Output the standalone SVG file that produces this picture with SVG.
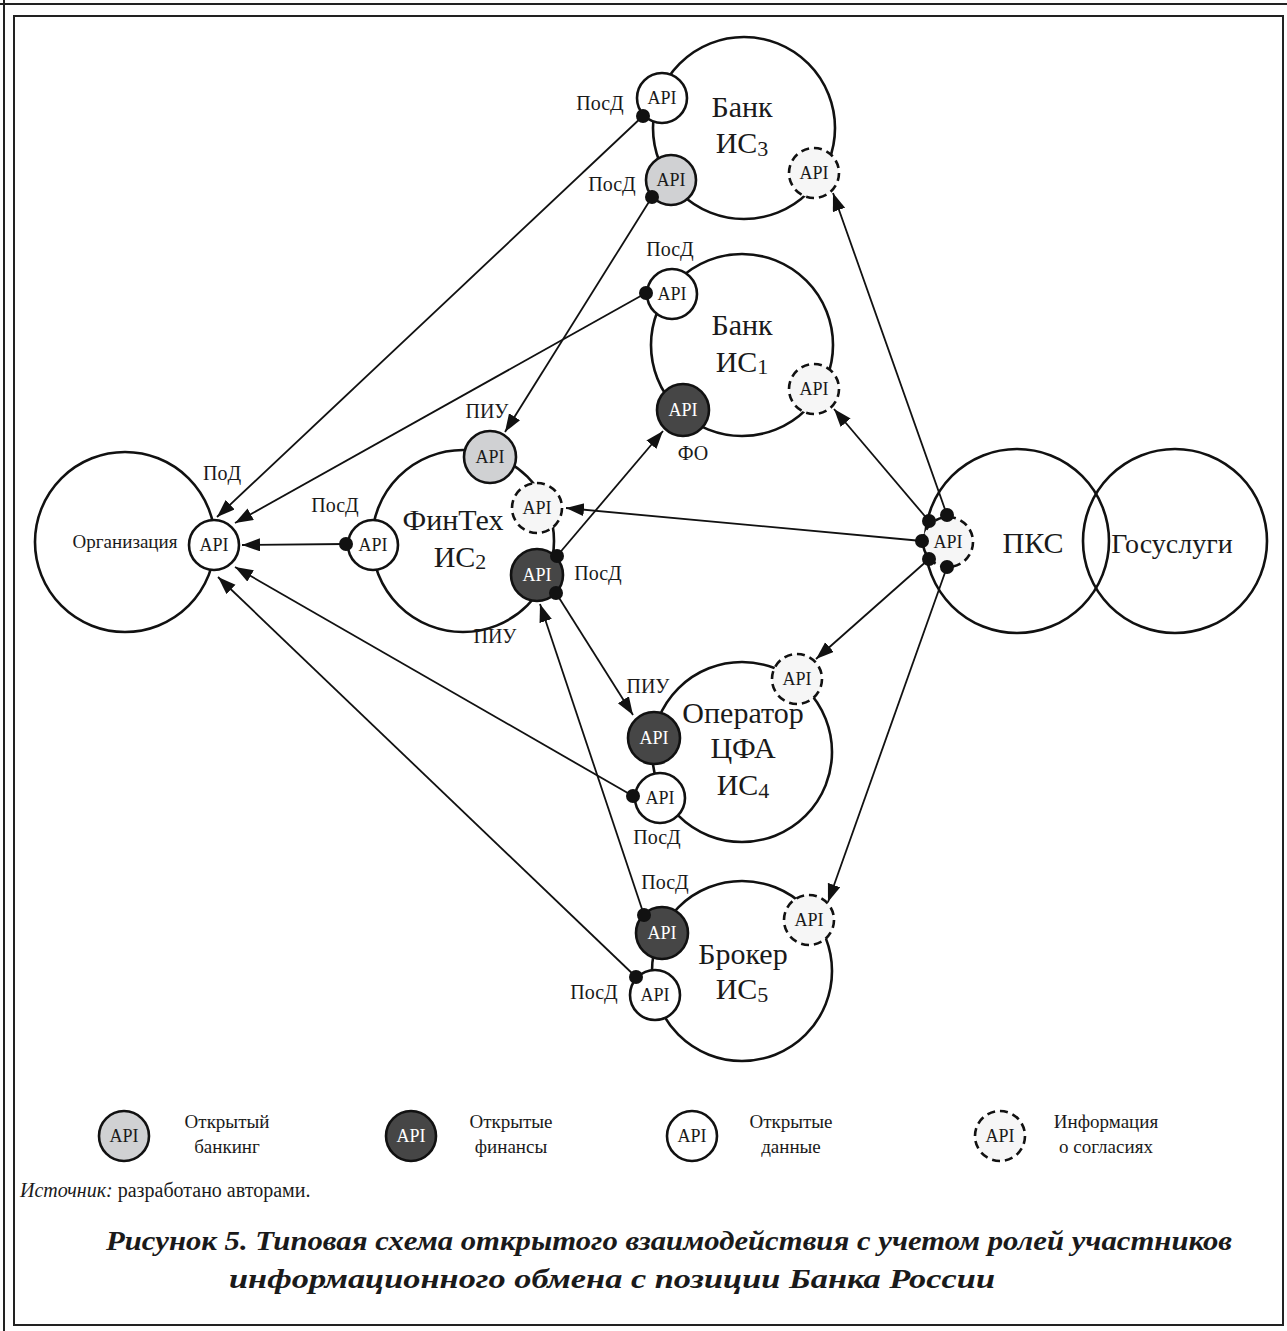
<svg xmlns="http://www.w3.org/2000/svg" width="1287" height="1331" viewBox="0 0 1287 1331">
<defs>
<marker id="arr" markerUnits="userSpaceOnUse" markerWidth="20" markerHeight="14" refX="18" refY="6.5" orient="auto">
<path d="M0,0 L18,6.5 L0,13 z" fill="#111"/>
</marker>
<style>
.big{fill:#fff;stroke:#111;stroke-width:2.6}
.w{fill:#fff;stroke:#111;stroke-width:2.6}
.g{fill:#d0d1d3;stroke:#111;stroke-width:2.6}
.d{fill:#464646;stroke:#111;stroke-width:2.6}
.c{fill:#f6f6f6;stroke:#111;stroke-width:2.6;stroke-dasharray:8 5}
.dot{fill:#111}
.ln{stroke:#111;stroke-width:1.8;fill:none;marker-end:url(#arr)}
text{font-family:"Liberation Serif","DejaVu Serif",serif;fill:#1a1a1a}
.api{font-size:18px;text-anchor:middle}
.apiw{font-size:18px;text-anchor:middle;fill:#fff}
.lab{font-size:20px;text-anchor:middle}
.main{font-size:30px;text-anchor:middle}
.sub{font-size:22px}
.leg{font-size:19px;text-anchor:middle}
</style>
</defs>
<rect x="0" y="0" width="1287" height="1331" fill="#fff"/>
<g id="frame" fill="none" stroke="#222">
<line x1="0" y1="4" x2="1287" y2="4" stroke-width="2"/>
<line x1="4" y1="0" x2="4" y2="1331" stroke-width="2"/>
<rect x="14" y="16" width="1269" height="1309" stroke-width="2"/>
</g>
<g id="big-circles">
<circle class="big" cx="125" cy="542" r="90"/>
<circle class="big" cx="744" cy="128" r="91"/>
<circle class="big" cx="742" cy="345" r="91"/>
<circle class="big" cx="463" cy="541" r="91"/>
<circle class="big" cx="742" cy="752" r="90"/>
<circle class="big" cx="742" cy="971" r="90"/>
<circle class="big" cx="1175" cy="541" r="92"/>
<circle class="big" cx="1017" cy="541" r="92" style="fill:none"/>
</g>
<g id="connectors">
<line class="ln" x1="643" y1="116" x2="217" y2="517"/>
<line class="ln" x1="646" y1="293" x2="235" y2="523"/>
<line class="ln" x1="346" y1="544" x2="242" y2="545"/>
<line class="ln" x1="633" y1="796" x2="235" y2="567"/>
<line class="ln" x1="636" y1="977" x2="218" y2="577"/>
<line class="ln" x1="652" y1="197" x2="505" y2="432"/>
<line class="ln" x1="557" y1="556" x2="663" y2="431"/>
<line class="ln" x1="556" y1="593" x2="633" y2="715"/>
<line class="ln" x1="644" y1="915" x2="540" y2="604"/>
<line class="ln" x1="947" y1="515" x2="833" y2="193"/>
<line class="ln" x1="929" y1="521" x2="834" y2="409"/>
<line class="ln" x1="922" y1="541" x2="566" y2="508"/>
<line class="ln" x1="929" y1="559" x2="816" y2="659"/>
<line class="ln" x1="947" y1="567" x2="828" y2="902"/>
</g>
<g id="org">
<circle class="w" cx="214" cy="545" r="25"/>
<text class="api" x="214" y="551">API</text>
<text x="125" y="548" font-size="19" text-anchor="middle">Организация</text>
<text class="lab" x="222" y="480">ПоД</text>
</g>
<g id="bank3">
<circle class="w" cx="662" cy="98" r="25"/>
<text class="api" x="662" y="104">API</text>
<circle class="g" cx="671" cy="180" r="25"/>
<text class="api" x="671" y="186">API</text>
<circle class="c" cx="814" cy="173" r="25"/>
<text class="api" x="814" y="179">API</text>
<text class="main" x="742" y="117">Банк</text>
<text class="main" x="742" y="153">ИС<tspan class="sub" dy="3">3</tspan></text>
<text class="lab" x="600" y="110">ПосД</text>
<text class="lab" x="612" y="191">ПосД</text>
</g>
<g id="bank1">
<circle class="w" cx="672" cy="294" r="25"/>
<text class="api" x="672" y="300">API</text>
<circle class="d" cx="683" cy="410" r="26"/>
<text class="apiw" x="683" y="416">API</text>
<circle class="c" cx="814" cy="389" r="25"/>
<text class="api" x="814" y="395">API</text>
<text class="main" x="742" y="335">Банк</text>
<text class="main" x="742" y="372">ИС<tspan class="sub" dy="2">1</tspan></text>
<text class="lab" x="670" y="256">ПосД</text>
<text class="lab" x="693" y="460">ФО</text>
</g>
<g id="fintech">
<circle class="g" cx="490" cy="457" r="26"/>
<text class="api" x="490" y="463">API</text>
<circle class="c" cx="537" cy="508" r="25"/>
<text class="api" x="537" y="514">API</text>
<circle class="w" cx="373" cy="545" r="25"/>
<text class="api" x="373" y="551">API</text>
<circle class="d" cx="537" cy="575" r="26"/>
<text class="apiw" x="537" y="581">API</text>
<text class="main" x="453" y="530">ФинТех</text>
<text class="main" x="460" y="567">ИС<tspan class="sub" dy="2">2</tspan></text>
<text class="lab" x="335" y="512">ПосД</text>
<text class="lab" x="598" y="580">ПосД</text>
<text class="lab" x="495" y="643">ПИУ</text>
<text class="lab" x="487" y="418">ПИУ</text>
</g>
<g id="pks">
<circle class="c" cx="948" cy="542" r="25"/>
<text class="api" x="948" y="548">API</text>
<text class="main" x="1033" y="553">ПКС</text>
</g>
<g id="gosuslugi">
<text x="1172" y="553" font-size="28" text-anchor="middle">Госуслуги</text>
</g>
<g id="operator">
<circle class="d" cx="654" cy="738" r="26"/>
<text class="apiw" x="654" y="744">API</text>
<circle class="w" cx="660" cy="798" r="25"/>
<text class="api" x="660" y="804">API</text>
<circle class="c" cx="797" cy="679" r="25"/>
<text class="api" x="797" y="685">API</text>
<text class="main" x="743" y="723">Оператор</text>
<text class="main" x="743" y="758">ЦФА</text>
<text class="main" x="743" y="795">ИС<tspan class="sub" dy="3">4</tspan></text>
<text class="lab" x="648" y="693">ПИУ</text>
<text class="lab" x="657" y="844">ПосД</text>
</g>
<g id="broker">
<circle class="d" cx="662" cy="933" r="26"/>
<text class="apiw" x="662" y="939">API</text>
<circle class="w" cx="655" cy="995" r="25"/>
<text class="api" x="655" y="1001">API</text>
<circle class="c" cx="809" cy="920" r="25"/>
<text class="api" x="809" y="926">API</text>
<text class="main" x="743" y="964">Брокер</text>
<text class="main" x="742" y="999">ИС<tspan class="sub" dy="3">5</tspan></text>
<text class="lab" x="665" y="889">ПосД</text>
<text class="lab" x="594" y="999">ПосД</text>
</g>
<g id="dots">
<circle class="dot" cx="643" cy="116" r="7"/>
<circle class="dot" cx="652" cy="197" r="7"/>
<circle class="dot" cx="646" cy="293" r="7"/>
<circle class="dot" cx="346" cy="544" r="7"/>
<circle class="dot" cx="557" cy="556" r="7"/>
<circle class="dot" cx="556" cy="593" r="7"/>
<circle class="dot" cx="633" cy="796" r="7"/>
<circle class="dot" cx="644" cy="915" r="7"/>
<circle class="dot" cx="636" cy="977" r="7"/>
<circle class="dot" cx="929" cy="521" r="7"/>
<circle class="dot" cx="947" cy="515" r="7"/>
<circle class="dot" cx="922" cy="541" r="7"/>
<circle class="dot" cx="929" cy="559" r="7"/>
<circle class="dot" cx="947" cy="567" r="7"/>
</g>
<g id="legend">
<circle class="g" cx="124" cy="1136" r="25"/>
<text class="api" x="124" y="1142">API</text>
<text class="leg" x="227" y="1128">Открытый</text>
<text class="leg" x="227" y="1153">банкинг</text>
<circle class="d" cx="411" cy="1136" r="25"/>
<text class="apiw" x="411" y="1142">API</text>
<text class="leg" x="511" y="1128">Открытые</text>
<text class="leg" x="511" y="1153">финансы</text>
<circle class="w" cx="692" cy="1136" r="25"/>
<text class="api" x="692" y="1142">API</text>
<text class="leg" x="791" y="1128">Открытые</text>
<text class="leg" x="791" y="1153">данные</text>
<circle class="c" cx="1000" cy="1136" r="25"/>
<text class="api" x="1000" y="1142">API</text>
<text class="leg" x="1106" y="1128">Информация</text>
<text class="leg" x="1106" y="1153">о согласиях</text>
</g>
<g id="caption">
<text x="20" y="1197" font-size="20"><tspan font-style="italic">Источник:</tspan> разработано авторами.</text>
<text x="669" y="1250" font-size="28" font-weight="bold" font-style="italic" text-anchor="middle" textLength="1126" lengthAdjust="spacingAndGlyphs">Рисунок 5. Типовая схема открытого взаимодействия с учетом ролей участников</text>
<text x="612" y="1288" font-size="28" font-weight="bold" font-style="italic" text-anchor="middle" textLength="766" lengthAdjust="spacingAndGlyphs">информационного обмена с позиции Банка России</text>
</g>
</svg>
